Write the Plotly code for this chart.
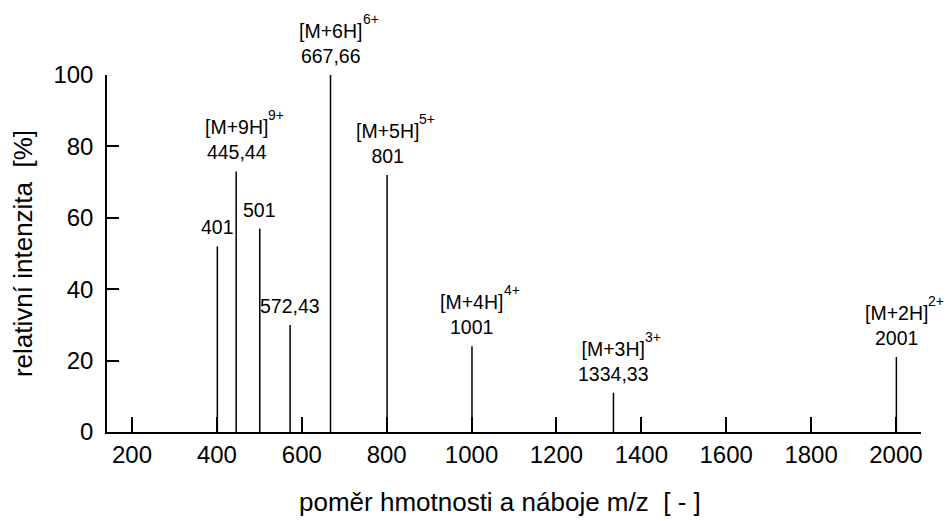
import plotly.graph_objects as go

# Data
mz = [401, 445.44, 501, 572.43, 667.66, 801, 1001, 1334.33, 2001]
intensity = [52, 73, 57, 30, 100, 72, 24, 11, 21]
ion = ["", "[M+9H]", "", "", "[M+6H]", "[M+5H]", "[M+4H]", "[M+3H]", "[M+2H]"]
charge = ["", "9+", "", "", "6+", "5+", "4+", "3+", "2+"]
mz_label = ["401", "445,44", "501", "572,43", "667,66", "801", "1001", "1334,33", "2001"]
x_ticks = [200, 400, 600, 800, 1000, 1200, 1400, 1600, 1800, 2000]
y_ticks = [0, 20, 40, 60, 80, 100]
x_title = "poměr hmotnosti a náboje m/z\u00a0\u00a0[ - ]"
y_title = "relativní intenzita\u00a0\u00a0[%]"

FONT = "Liberation Sans, Arial, sans-serif"

xs, ys = [], []
for m, h in zip(mz, intensity):
    xs += [m, m, None]
    ys += [0, h, None]

fig = go.Figure()
fig.add_trace(go.Scatter(x=xs, y=ys, mode="lines",
                         line=dict(color="black", width=1.5),
                         hoverinfo="skip", showlegend=False))

for m, h, name, ch, lab in zip(mz, intensity, ion, charge, mz_label):
    text = f"{name}<br>{lab}" if name else lab
    fig.add_annotation(x=m, y=h, text=text, showarrow=False,
                       xanchor="center", yanchor="bottom", yshift=6,
                       font=dict(family=FONT, size=19.5, color="black"),
                       align="center")
    if ch:
        fig.add_annotation(x=m, y=h, text=ch, showarrow=False,
                           xanchor="left", yanchor="middle",
                           xshift=30, yshift=56,
                           font=dict(family=FONT, size=14, color="black"))

# x-axis title (slightly left of centre, as in the original)
fig.add_annotation(x=0.5, y=0, xref="paper", yref="paper", text=x_title,
                   showarrow=False, xanchor="center", yanchor="middle",
                   xshift=-14, yshift=-70,
                   font=dict(family=FONT, size=26, color="black"))

fig.update_layout(
    width=944, height=513,
    margin=dict(l=99, r=31, t=67, b=89),
    plot_bgcolor="white", paper_bgcolor="white",
    font=dict(family=FONT, size=24, color="black"),
    showlegend=False,
)
fig.update_xaxes(range=[141, 2059], tickvals=x_ticks, ticktext=[str(v) for v in x_ticks],
                 ticks="inside", ticklen=15, tickwidth=1.5, tickcolor="black",
                 showline=True, linecolor="black", linewidth=1.5,
                 showgrid=False, zeroline=False,
                 tickfont=dict(family=FONT, size=24))
fig.update_yaxes(range=[0, 100], tickvals=y_ticks, ticktext=[str(v) for v in y_ticks],
                 ticks="inside", ticklen=12, tickwidth=1.5, tickcolor="black",
                 showline=True, linecolor="black", linewidth=1.5,
                 showgrid=False, zeroline=False, ticklabelstandoff=7,
                 tickfont=dict(family=FONT, size=24),
                 title=dict(text=y_title,
                            font=dict(family=FONT, size=26), standoff=16))

fig.write_html("out.html")
